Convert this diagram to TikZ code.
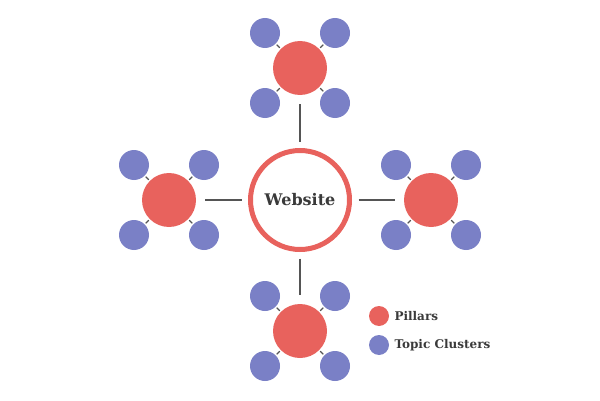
\documentclass[tikz,border=0pt]{standalone}
\usepackage{fontspec}
\setmainfont{DejaVu Serif}
\usepackage{tikz}

\definecolor{pillarred}{HTML}{E8625D}
\definecolor{topicblue}{HTML}{7A80C6}
\definecolor{linkgray}{HTML}{555555}
\definecolor{textgray}{HTML}{3A3A3A}

\tikzset{
  pillar/.style={circle, fill=pillarred, minimum size=54pt, inner sep=0pt, outer sep=0pt},
  topic/.style={circle, fill=topicblue, minimum size=30pt, inner sep=0pt, outer sep=0pt},
  site/.style={circle, draw=pillarred, line width=5pt, fill=white, minimum size=99pt, inner sep=0pt, outer sep=0pt,
    text=textgray, font=\bfseries\fontsize{16}{16}\selectfont},
  dot/.style={circle, minimum size=20pt, inner sep=0pt, outer sep=0pt},
  legendtext/.style={anchor=west, text=textgray, font=\bfseries\fontsize{12}{13}\selectfont},
  mainlink/.style={linkgray, line width=1.2pt, shorten <=9pt, shorten >=9pt},
  sublink/.style={linkgray, line width=1.1pt, shorten <=1.5pt, shorten >=1.5pt}
}

\begin{document}
\begin{tikzpicture}[x=1pt, y=1pt]
        \useasboundingbox (0,0) rectangle (600,400);

        % website in the middle
        \node[site] (web) at (300,200) {Website};

        % pillars
        \node[pillar] (ptop) at (300,332) {};
        \node[pillar] (pbot) at (300,69) {};
        \node[pillar] (pleft) at (169,200) {};
        \node[pillar] (pright) at (431,200) {};

        % topic clusters round the top pillar
        \node[topic] (t1) at (265,367) {};
        \node[topic] (t2) at (335,367) {};
        \node[topic] (t3) at (265,297) {};
        \node[topic] (t4) at (335,297) {};

        % topic clusters round the bottom pillar
        \node[topic] (b1) at (265,104) {};
        \node[topic] (b2) at (335,104) {};
        \node[topic] (b3) at (265,34) {};
        \node[topic] (b4) at (335,34) {};

        % topic clusters round the left pillar
        \node[topic] (l1) at (134,235) {};
        \node[topic] (l2) at (204,235) {};
        \node[topic] (l3) at (134,165) {};
        \node[topic] (l4) at (204,165) {};

        % topic clusters round the right pillar
        \node[topic] (r1) at (396,235) {};
        \node[topic] (r2) at (466,235) {};
        \node[topic] (r3) at (396,165) {};
        \node[topic] (r4) at (466,165) {};

        % links website - pillars
        \draw[mainlink] (web) -- (ptop);
        \draw[mainlink] (web) -- (pbot);
        \draw[mainlink] (web) -- (pleft);
        \draw[mainlink] (web) -- (pright);

        % links pillars - topic clusters
        \draw[sublink] (ptop) -- (t1);
        \draw[sublink] (ptop) -- (t2);
        \draw[sublink] (ptop) -- (t3);
        \draw[sublink] (ptop) -- (t4);
        \draw[sublink] (pbot) -- (b1);
        \draw[sublink] (pbot) -- (b2);
        \draw[sublink] (pbot) -- (b3);
        \draw[sublink] (pbot) -- (b4);
        \draw[sublink] (pleft) -- (l1);
        \draw[sublink] (pleft) -- (l2);
        \draw[sublink] (pleft) -- (l3);
        \draw[sublink] (pleft) -- (l4);
        \draw[sublink] (pright) -- (r1);
        \draw[sublink] (pright) -- (r2);
        \draw[sublink] (pright) -- (r3);
        \draw[sublink] (pright) -- (r4);

        % legend
        \node[dot, fill=pillarred] (keyp) at (379,84) {};
        \node[legendtext] (keyptext) at (391,84) {Pillars};
        \node[dot, fill=topicblue] (keyt) at (379,55) {};
        \node[legendtext] (keyttext) at (391,55) {Topic Clusters};

        \end{tikzpicture}
\end{document}
